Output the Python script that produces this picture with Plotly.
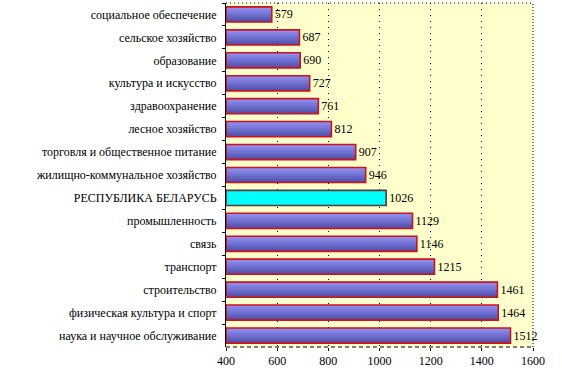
import plotly.graph_objects as go

categories = [
    "социальное обеспечение",
    "сельское хозяйство",
    "образование",
    "культура и искусство",
    "здравоохранение",
    "лесное хозяйство",
    "торговля и общественное питание",
    "жилищно-коммунальное хозяйство",
    "РЕСПУБЛИКА БЕЛАРУСЬ",
    "промышленность",
    "связь",
    "транспорт",
    "строительство",
    "физическая культура и спорт",
    "наука и научное обслуживание",
]
values = [579, 687, 690, 727, 761, 812, 907, 946, 1026, 1129, 1146, 1215, 1461, 1464, 1512]
highlight = "РЕСПУБЛИКА БЕЛАРУСЬ"
x_ticks = [400, 600, 800, 1000, 1200, 1400, 1600]
axis_start = 400

# vertical shading bands of each bar (top -> bottom)
band_colors = ["#8E8EF0", "#8484E6", "#7A7ADB", "#7070D0", "#6666C4", "#5C5CB8", "#5252AC"]
highlight_color = "#00FFFF"
bar_width = 0.66

FONT = "Liberation Serif, Times New Roman, serif"

lengths = [v - axis_start for v in values]
fig = go.Figure()
n = len(band_colors)
bw = bar_width / n
for k, col in enumerate(band_colors):
    fig.add_trace(go.Bar(
        x=lengths,
        y=categories,
        orientation="h",
        base=axis_start,
        width=bar_width - k * bw,
        offset=-bar_width / 2 + k * bw,
        marker=dict(color=[highlight_color if c == highlight else col for c in categories],
                    line=dict(width=0)),
        hoverinfo="skip",
    ))

line_colors = ["#5A3A3A" if c == highlight else "#D0101A" for c in categories]
fig.add_trace(go.Bar(
    x=lengths,
    y=categories,
    orientation="h",
    base=axis_start,
    width=bar_width,
    marker=dict(color="rgba(0,0,0,0)", line=dict(color=line_colors, width=1.6)),
    text=[str(v) for v in values],
    textposition="outside",
    cliponaxis=False,
    textfont=dict(family=FONT, size=12, color="black"),
    hoverinfo="skip",
))

fig.update_layout(
    width=562,
    height=378,
    margin=dict(l=226, r=29, t=3, b=31),
    paper_bgcolor="white",
    plot_bgcolor="#FFFFCC",
    showlegend=False,
    barmode="overlay",
    font=dict(family=FONT, size=11, color="black"),
    xaxis=dict(
        range=[400, 1600],
        tickvals=x_ticks,
        ticktext=[str(t) for t in x_ticks],
        showgrid=True,
        gridcolor="black",
        griddash="1px,5px",
        gridwidth=1,
        zeroline=False,
        showline=False,
        ticks="outside",
        ticklen=3,
        tickcolor="black",
        tickfont=dict(family=FONT, size=12),
    ),
    yaxis=dict(
        autorange="reversed",
        showgrid=False,
        showline=True,
        linecolor="black",
        linewidth=1,
        ticks="outside",
        ticklen=3,
        tickson="boundaries",
        tickcolor="black",
        ticklabelstandoff=6,
        tickfont=dict(family=FONT, size=12),
    ),
)

# dotted frame: top, right, and dashed bottom
fig.add_shape(type="line", xref="paper", yref="paper", x0=0, x1=1, y0=1, y1=1,
              line=dict(color="black", width=1, dash="1px,3px"))
fig.add_shape(type="line", xref="paper", yref="paper", x0=1, x1=1, y0=0, y1=1,
              line=dict(color="black", width=1, dash="1px,2px"))
fig.add_shape(type="line", xref="paper", yref="paper", x0=0, x1=1, y0=0, y1=0,
              line=dict(color="black", width=1, dash="4px,3px"))

fig.write_html("out.html", config={"displayModeBar": False},
               post_script="document.body.style.margin='0';")
